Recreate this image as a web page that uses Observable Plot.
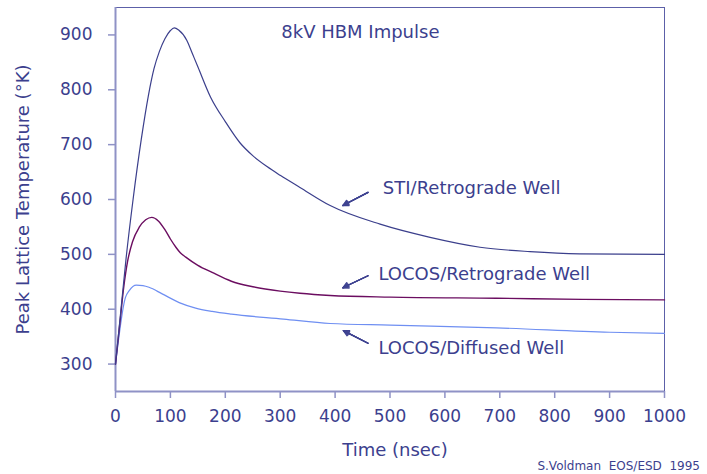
<!DOCTYPE html>
<html>
<head>
<meta charset="utf-8">
<script src="https://cdn.jsdelivr.net/npm/d3@7"></script>
<script src="https://cdn.jsdelivr.net/npm/@observablehq/plot@0.6"></script>
<style>
  body { margin: 0; background: #fff; font-family: "DejaVu Sans", sans-serif; }
  #chart { width: 707px; }
  #caption { width: 700px; height: 16px; line-height: 16px; font-size: 12px; color: #3c3f8e; text-align: right; white-space: pre; }
</style>
</head>
<body>
<div id="chart"></div>
<div id="caption"></div>
<script>
// Time (nsec) and peak lattice temperature (°K) for each structure
const stiTime = [0, 10, 19, 32, 47, 60, 70, 80, 90, 100, 107, 115, 130, 140, 150, 173, 200, 227, 250, 276, 300, 336, 391, 482, 573, 664, 755, 845, 1000];
const stiTemp = [300, 400, 490, 600, 710, 790, 838, 870, 893, 908, 913, 909, 890, 866, 842, 787, 742, 703, 680, 660, 644, 622, 589, 555, 531, 513, 505, 501, 500];

const locosRetTime = [0, 8, 15, 22, 31, 43, 55, 66, 78, 90, 100, 110, 118, 128, 150, 176, 211, 250, 300, 336, 391, 500, 694, 850, 1000];
const locosRetTemp = [300, 375, 440, 487, 523, 549, 563, 567.5, 561, 545, 528, 513, 503, 495, 480, 467, 451, 441, 433, 429, 425, 422, 420, 418, 417];

const locosDiffTime = [0, 9, 13, 18, 25, 38, 50, 61, 85, 116, 146, 176, 211, 306, 391, 500, 694, 900, 1000];
const locosDiffTemp = [300, 370, 397, 421, 434, 444, 443, 440, 428, 412, 402, 396, 391, 382, 374, 371, 366, 358, 356];

const xTicks = [0, 100, 200, 300, 400, 500, 600, 700, 800, 900, 1000];
const yTicks = [300, 400, 500, 600, 700, 800, 900];

// Curve labels with their arrows (data coordinates)
const labelNames = ["STI/Retrograde Well", "LOCOS/Retrograde Well", "LOCOS/Diffused Well"];
const labelTime = [487, 479, 479];
const labelTemp = [620, 464, 328];
const arrowTailTime = [460, 460, 460];
const arrowTailTemp = [613, 461, 338];
const arrowTipTime = [414, 414, 415];
const arrowTipTemp = [589, 439, 361];

const chartTitle = "8kV HBM Impulse";
const titleTime = 302;
const titleTemp = 905;
const xLabel = "Time (nsec)";
const yLabel = "Peak Lattice Temperature (°K)";
const captionText = "S.Voldman  EOS/ESD  1995";

const toRows = (ts, ks) => ts.map((t, i) => ({t, k: ks[i]}));
const sti = toRows(stiTime, stiTemp);
const locosRet = toRows(locosRetTime, locosRetTemp);
const locosDiff = toRows(locosDiffTime, locosDiffTemp);
const labels = labelNames.map((name, i) => ({name, t: labelTime[i], k: labelTemp[i]}));
const arrows = labelNames.map((name, i) => ({x1: arrowTailTime[i], y1: arrowTailTemp[i], x2: arrowTipTime[i], y2: arrowTipTemp[i]}));

const textColor = "#3c3f8e";
const axisColor = "#8f92c6";
const frameColor = "#5c60a8";

const chart = Plot.plot({
  width: 707,
  height: 458,
  marginLeft: 115,
  marginRight: 43,
  marginTop: 7,
  marginBottom: 67,
  style: {fontFamily: "DejaVu Sans, sans-serif", background: "#fff"},
  x: {domain: [0, 1000], ticks: xTicks},
  y: {domain: [250, 950], ticks: yTicks},
  marks: [
    Plot.frame({stroke: frameColor, strokeWidth: 1}),
    Plot.axisX({ticks: xTicks, tickFormat: d => String(d), tickSize: 7, tickPadding: 11, fontSize: 17, stroke: axisColor, fill: textColor, strokeWidth: 1.5, label: null}),
    Plot.axisY({ticks: yTicks, tickFormat: d => String(d), tickSize: 7, tickPadding: 16, fontSize: 17, stroke: axisColor, fill: textColor, strokeWidth: 1.5, label: null}),
    Plot.ruleX([0], {stroke: axisColor, strokeWidth: 2}),
    Plot.ruleY([250], {stroke: axisColor, strokeWidth: 2}),
    Plot.line(locosDiff, {x: "t", y: "k", stroke: "#6f8ff2", strokeWidth: 1.2, curve: "monotone-x"}),
    Plot.line(locosRet, {x: "t", y: "k", stroke: "#6b0d60", strokeWidth: 1.4, curve: "monotone-x"}),
    Plot.line(sti, {x: "t", y: "k", stroke: "#3b3f8c", strokeWidth: 1.2, curve: "monotone-x"}),
    ...[55, 40, 25, 10].map(a => Plot.arrow(arrows, {x1: "x1", y1: "y1", x2: "x2", y2: "y2", stroke: "#3f4391", strokeWidth: 1.2, headLength: 8, headAngle: a})),
    Plot.text(labels, {x: "t", y: "k", text: "name", textAnchor: "start", fontSize: 18, fill: textColor}),
    Plot.text([chartTitle], {x: () => titleTime, y: () => titleTemp, text: d => d, textAnchor: "start", fontSize: 18, fill: textColor}),
    Plot.text([xLabel], {frameAnchor: "bottom", text: d => d, textAnchor: "middle", dy: 64, dx: 5, fontSize: 18, fill: textColor}),
    Plot.text([yLabel], {frameAnchor: "left", text: d => d, textAnchor: "middle", dx: -92, rotate: -90, fontSize: 18, fill: textColor})
  ]
});
document.getElementById("chart").appendChild(chart);
document.getElementById("caption").textContent = captionText;
</script>
</body>
</html>
